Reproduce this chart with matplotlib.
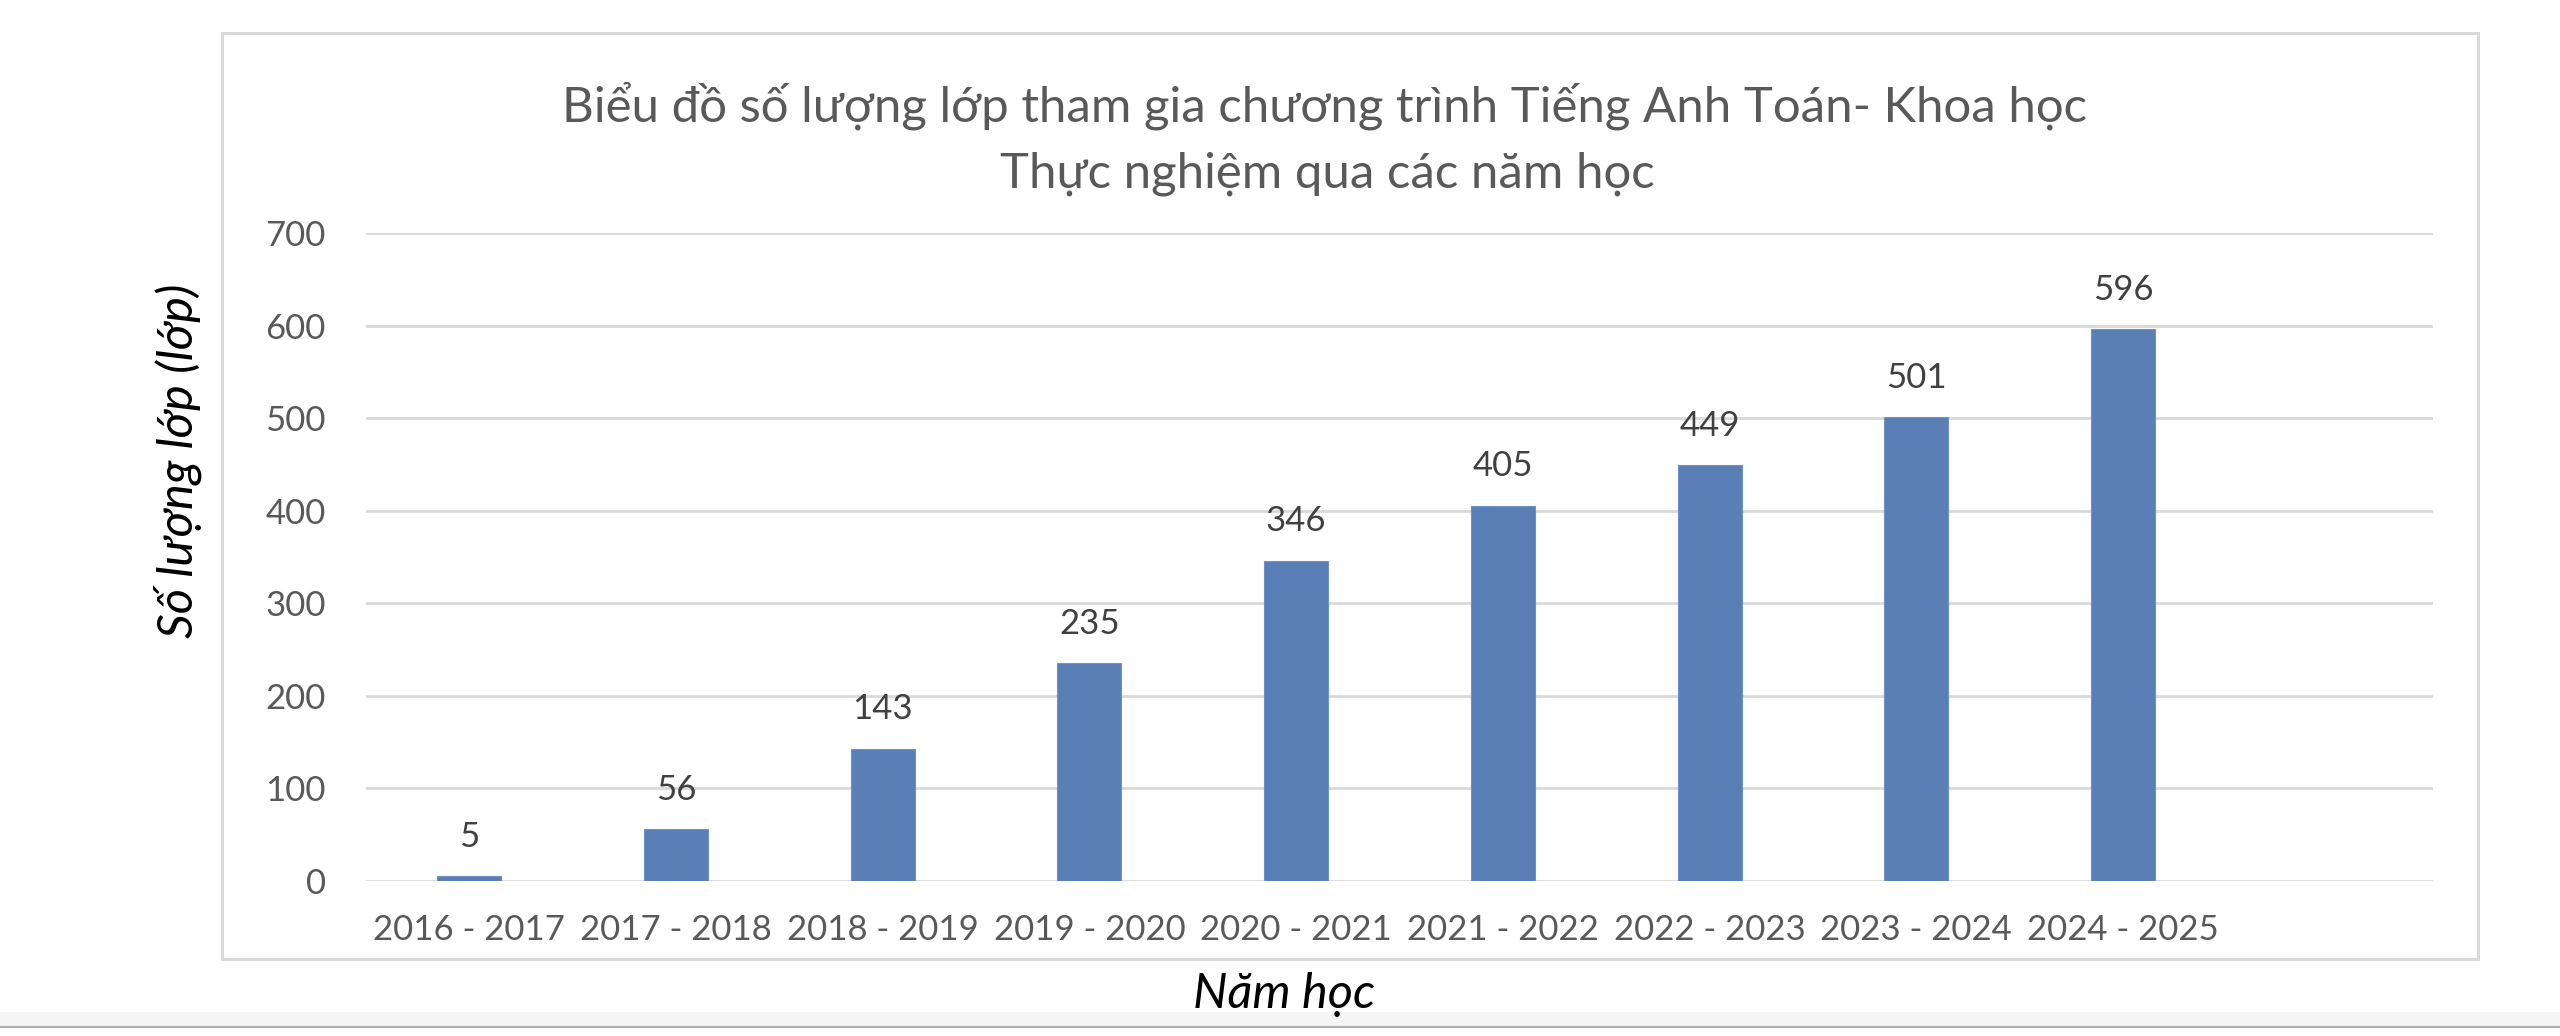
import matplotlib
matplotlib.use('Agg')
import matplotlib.pyplot as plt
from matplotlib.patches import Rectangle
from matplotlib.lines import Line2D

# du lieu
nam_hoc = ['2016 - 2017', '2017 - 2018', '2018 - 2019', '2019 - 2020',
           '2020 - 2021', '2021 - 2022', '2022 - 2023', '2023 - 2024',
           '2024 - 2025']
so_lop = [5, 56, 143, 235, 346, 405, 449, 501, 596]
y_ticks = [0, 100, 200, 300, 400, 500, 600, 700]

title_1 = 'Biểu đồ số lượng lớp tham gia chương trình Tiếng Anh Toán- Khoa học'
title_2 = 'Thực nghiệm qua các năm học'
y_title = 'Số lượng lớp (lớp)'
x_title = 'Năm học'

FONT = ['Lato', 'Open Sans', 'DejaVu Sans']
plt.rcParams['font.family'] = FONT

W, H = 2560, 1036
fig = plt.figure(figsize=(W / 100, H / 100), dpi=100, facecolor='white')

# khung bieu do
fig.patches.append(Rectangle((222 / W, 1 - 959 / H), (2478 - 222) / W, (959 - 33) / H,
                             transform=fig.transFigure, fill=False,
                             edgecolor='#D9D9D9', linewidth=2.2, zorder=0))

# duong ngan trang o duoi
fig.patches.append(Rectangle((0, 0), 1, (H - 1012) / H, transform=fig.transFigure,
                             facecolor='#F5F5F5', edgecolor='none', zorder=0))
fig.lines.append(Line2D([0, 1], [1 - 1027 / H, 1 - 1027 / H], transform=fig.transFigure,
                        color='#AFAFAF', linewidth=1.5))
fig.patches.append(Rectangle((0, 0), 1, (H - 1028) / H, transform=fig.transFigure,
                             facecolor='white', edgecolor='none', zorder=0))

ax = fig.add_axes([366 / W, 1 - 881 / H, (2433 - 366) / W, (881 - 233) / H])
ax.set_facecolor('none')

x = list(range(len(nam_hoc)))
bars = ax.bar(x, so_lop, width=0.31, color='#5A7FB7', edgecolor='#6E92C6',
              linewidth=0.8, zorder=3)
ax.bar_label(bars, labels=[str(v) for v in so_lop], padding=17,
             fontsize=25, color='#404040')

ax.set_xlim(-0.5, 9.5)
ax.set_ylim(0, 700)
ax.set_yticks(y_ticks)
ax.set_xticks(x)
ax.set_xticklabels(nam_hoc)
ax.yaxis.grid(True, color='#D9D9D9', linewidth=2.0, zorder=0)
ax.set_axisbelow(True)
for s in ax.spines.values():
    s.set_visible(False)
ax.tick_params(axis='both', length=0, labelsize=25, labelcolor='#595959')
ax.tick_params(axis='y', pad=29)
ax.tick_params(axis='x', pad=24)

fig.text(1325 / W, 1 - 122 / H, title_1, ha='center', va='baseline',
         fontsize=35.4, color='#595959')
fig.text(1327 / W, 1 - 187 / H, title_2, ha='center', va='baseline',
         fontsize=35.4, color='#595959')
fig.text(178 / W, 1 - 461 / H, y_title, rotation=90, ha='center', va='center',
         fontsize=35, style='italic', color='black')
fig.text(1284 / W, 1 - 1008 / H, x_title, ha='center', va='baseline',
         fontsize=35, style='italic', color='black')

fig.savefig('out.png', dpi=100, facecolor='white')
